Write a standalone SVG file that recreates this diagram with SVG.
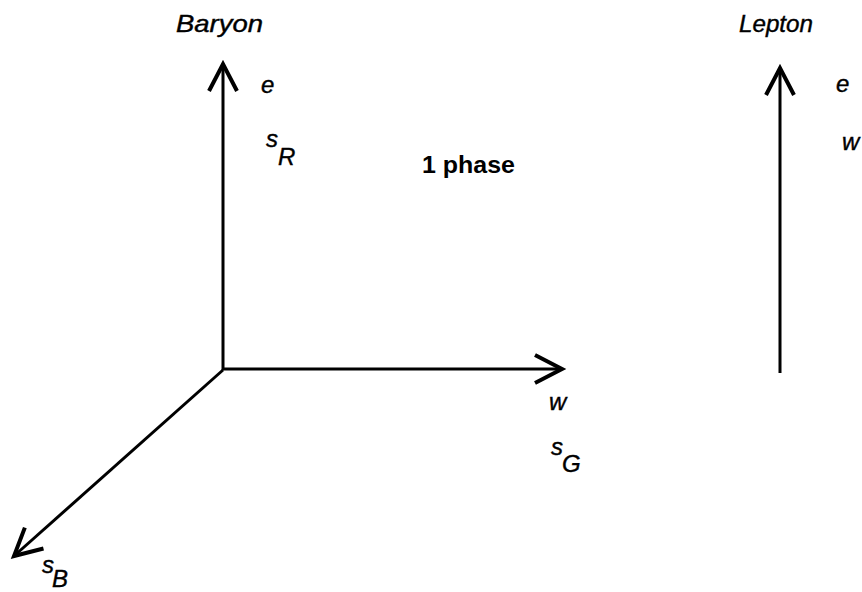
<svg xmlns="http://www.w3.org/2000/svg" width="862" height="592" viewBox="0 0 862 592">
<style>
.ax{stroke:#000;stroke-width:3;fill:none;}
.lbl{font-family:"Liberation Sans",Arial,sans-serif;font-style:italic;font-size:24px;fill:#000;stroke:#000;stroke-width:0.4;}
.ttl{font-family:"Liberation Sans",Arial,sans-serif;font-style:italic;font-size:24px;fill:#000;stroke:#000;stroke-width:0.4;}
.ph{font-family:"Liberation Sans",Arial,sans-serif;font-weight:bold;font-size:24px;fill:#000;}
</style>
<defs>
<marker id="arr" markerUnits="userSpaceOnUse" viewBox="-40 -20 50 40" refX="0" refY="0" markerWidth="50" markerHeight="40" orient="auto" overflow="visible">
<path d="M-27,-14 L0,0 L-27,14" fill="none" stroke="#000" stroke-width="4" stroke-linejoin="miter"/>
</marker>
</defs>
<rect width="862" height="592" fill="#fff"/>
<g id="connectors">
<line class="ax" x1="223" y1="370" x2="223" y2="64" marker-end="url(#arr)"/>
<line class="ax" x1="223" y1="369" x2="562" y2="369" marker-end="url(#arr)"/>
<line class="ax" x1="223" y1="370" x2="14" y2="556" stroke-width="4" marker-end="url(#arr)"/>
<line class="ax" x1="780" y1="373" x2="780" y2="68" marker-end="url(#arr)"/>
</g>
<g id="baryon">
<text class="ttl" x="176" y="32" textLength="87" lengthAdjust="spacingAndGlyphs">Baryon</text>
</g>
<g id="lepton">
<text class="ttl" x="739" y="32" textLength="74" lengthAdjust="spacingAndGlyphs">Lepton</text>
</g>
<g id="phase">
<text class="ph" x="422" y="173" textLength="93" lengthAdjust="spacingAndGlyphs">1 phase</text>
</g>
<g id="baryon-e"><text class="lbl" x="261" y="93">e</text></g>
<g id="baryon-sR"><text class="lbl" x="266" y="147">s</text><text class="lbl" x="278" y="165">R</text></g>
<g id="lepton-e"><text class="lbl" x="836" y="92">e</text></g>
<g id="lepton-w"><text class="lbl" x="842" y="150">w</text></g>
<g id="w-label"><text class="lbl" x="549" y="410">w</text></g>
<g id="sG"><text class="lbl" x="551" y="455">s</text><text class="lbl" x="562" y="472">G</text></g>
<g id="sB"><text class="lbl" x="42" y="573">s</text><text class="lbl" x="52" y="587">B</text></g>
</svg>
